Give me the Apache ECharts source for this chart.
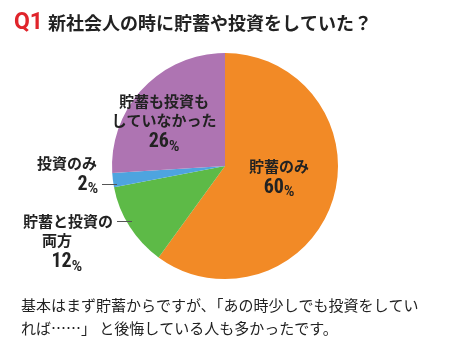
<!DOCTYPE html>
<html><head><meta charset="utf-8">
<script src="https://cdn.jsdelivr.net/npm/echarts@6/dist/echarts.min.js"></script>
<style>html,body{margin:0;padding:0;background:#fff}#c{width:450px;height:350px}</style>
</head><body><div id="c"></div>
<script>
const categories = ['貯蓄のみ', '貯蓄と投資の\n両方', '投資のみ', '貯蓄も投資も\nしていなかった'];
const values = [60, 12, 2, 26];
const colors = ['#F28A26', '#5DBA47', '#4EA4DF', '#AE74B2'];
const titleQ = 'Q1';
const titleText = '新社会人の時に貯蓄や投資をしていた？';
const caption = '基本はまず貯蓄からですが､「あの時少しでも投資をしてい\nれば……」 と後悔している人も多かったです。';

const FONT = '"Noto Sans CJK JP", sans-serif';
// label layout (positions/styles only): anchor, alignment, leader dash on which line, right padding per line
const labelPos = [
  {x: 279, y: 178, align: 'center', dashLine: -1, pad: [0, 0]},
  {x: 132, y: 243, align: 'right', dashLine: 0, pad: [0, 60, 50]},
  {x: 117, y: 175, align: 'right', dashLine: 1, pad: [20, 0]},
  {x: 164, y: 123, align: 'center', dashLine: -1, pad: [0, 0, 0]}
];

function fmt(p) {
  const lp = labelPos[p.dataIndex];
  const lines = p.name.split('\n').map(s => '{n|' + s + '}');
  lines.push('{p|' + p.value + '}{u|%}');
  return lines.map((s, i) => {
    if (i === lp.dashLine) return s + '{g| }{l| }';
    if (lp.pad[i]) return s + '{s' + lp.pad[i] + '| }';
    return s;
  }).join('\n');
}

const chart = echarts.init(document.getElementById('c'), null, {renderer: 'canvas'});
chart.setOption({
  animation: false,
  title: [
    {text: '{q|' + titleQ + '} {t|' + titleText + '}', left: 9, top: 7,
     textStyle: {rich: {
       q: {color: '#E0242B', fontSize: 23, fontWeight: 'bold', fontFamily: 'Roboto, sans-serif'},
       t: {color: '#222', fontSize: 18, fontWeight: 'bold', fontFamily: FONT}
     }}},
    {text: caption, left: 16, top: 289,
     textStyle: {color: '#222', fontSize: 15, fontWeight: 'normal', fontFamily: FONT, lineHeight: 23}}
  ],
  series: [{
    type: 'pie',
    center: [225, 166],
    radius: 113,
    startAngle: 90,
    clockwise: true,
    avoidLabelOverlap: false,
    data: categories.map((c, i) => ({name: c, value: values[i], itemStyle: {color: colors[i]}})),
    label: {
      show: true,
      position: 'outside',
      overflow: 'none',
      formatter: fmt,
      rich: {
        n: {fontSize: 15, fontWeight: 'bold', color: '#222', fontFamily: FONT, lineHeight: 19},
        p: {fontSize: 20, fontWeight: 'bold', color: '#222', fontFamily: '"Liberation Sans Narrow", "Roboto Condensed", Roboto, sans-serif', lineHeight: 24},
        u: {fontSize: 14, fontWeight: 'bold', color: '#222', fontFamily: 'Roboto, sans-serif', lineHeight: 24, verticalAlign: 'bottom'},
        g: {width: 4, fontSize: 10, lineHeight: 10},
        l: {width: 15, height: 1, fontSize: 1, lineHeight: 10, backgroundColor: '#555', verticalAlign: 'middle'},
        s20: {width: 20, fontSize: 10, lineHeight: 10},
        s50: {width: 50, fontSize: 10, lineHeight: 10},
        s60: {width: 60, fontSize: 10, lineHeight: 10}
      }
    },
    labelLine: {show: false},
    labelLayout: function (params) {
      const lp = labelPos[params.dataIndex];
      return {x: lp.x, y: lp.y, align: lp.align, verticalAlign: 'middle', hideOverlap: false, moveOverlap: null};
    },
    emphasis: {disabled: true}
  }]
});
</script></body></html>
